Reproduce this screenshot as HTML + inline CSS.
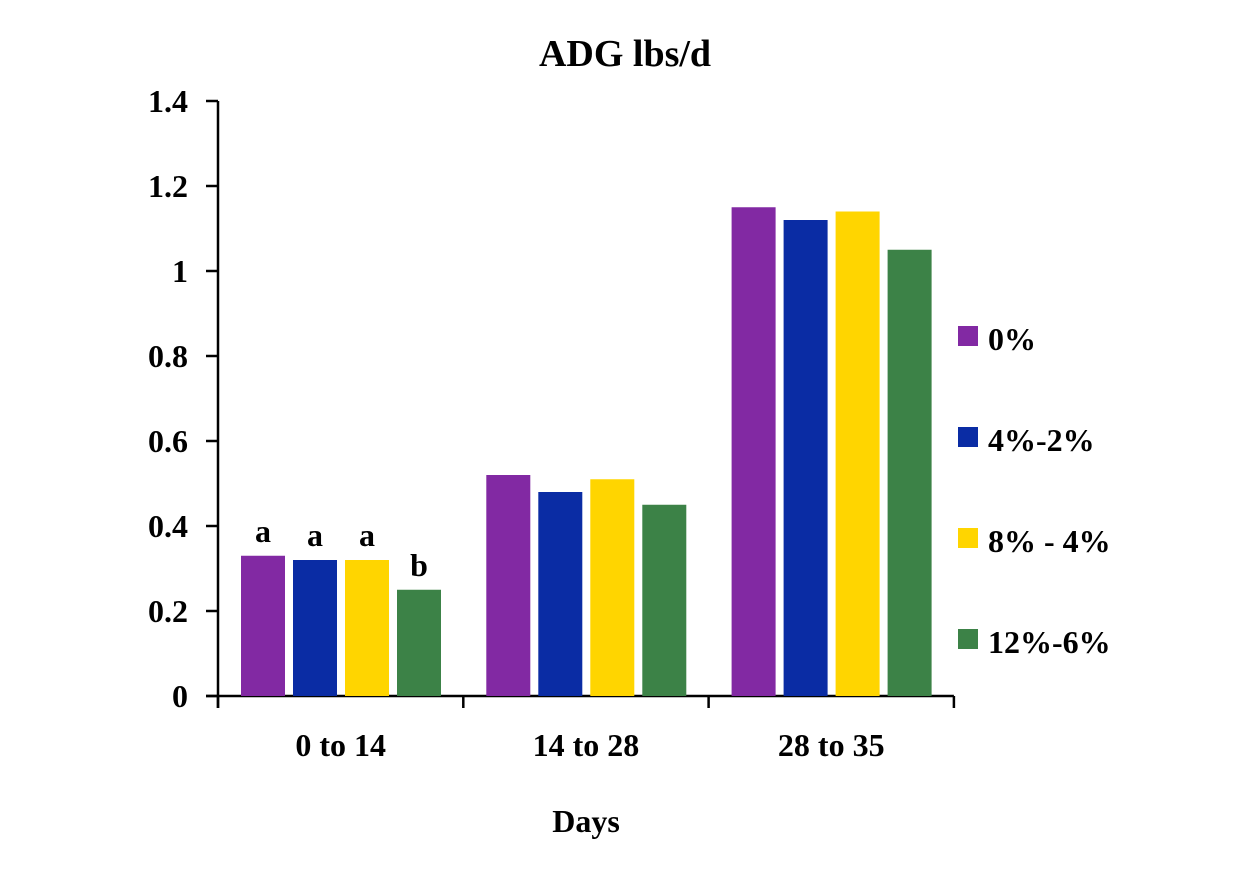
<!DOCTYPE html>
<html><head><meta charset="utf-8"><style>
body{margin:0;background:#fff;}
svg text{font-family:"Liberation Serif",serif;font-weight:bold;fill:#000;}
</style></head><body>
<svg width="1250" height="875">
<text x="625" y="66" font-size="38" text-anchor="middle">ADG lbs/d</text>
<g id="plot"></g>
<text x="586" y="832" font-size="32" text-anchor="middle">Days</text>
</svg>
<script>
const categories=["0 to 14","14 to 28","28 to 35"];
const seriesNames=["0%","4%-2%","8% - 4%","12%-6%"];
const s0=[0.33,0.52,1.15];
const s1=[0.32,0.48,1.12];
const s2=[0.32,0.51,1.14];
const s3=[0.25,0.45,1.05];
const letters=[["a","a","a","b"],["","","",""],["","","",""]];
const yTicks=[0,0.2,0.4,0.6,0.8,1,1.2,1.4];
const yTickLabels=["0","0.2","0.4","0.6","0.8","1","1.2","1.4"];
const colors=["#8229a3","#0a2ca4","#ffd500","#3c8247"];
const series=[s0,s1,s2,s3];
const NS="http://www.w3.org/2000/svg";
const g=document.getElementById('plot');
const x0=218,groupW=245.3,y0=696,yScale=425;
const y=v=>y0-v*yScale;
function mk(t,a,txt){const e=document.createElementNS(NS,t);for(const k in a)e.setAttribute(k,a[k]);if(txt!==undefined)e.textContent=txt;g.appendChild(e);return e;}
// axes
let e=mk('line',{x1:x0,y1:y(1.4),x2:x0,y2:y0+12,stroke:'#000','stroke-width':2.5});


e=mk('line',{x1:x0-12,y1:y0,x2:x0+groupW*3,y2:y0,stroke:'#000','stroke-width':2.5});


yTicks.forEach((v,i)=>{
 let t=mk('line',{x1:x0-12,y1:y(v),x2:x0,y2:y(v),stroke:'#000','stroke-width':2.5});
 
 
 let l=mk('text',{x:x0-30,y:y(v)+11,'font-size':32,'text-anchor':'end'},yTickLabels[i]);
 
 
});
for(let c=0;c<=categories.length;c++){
 let t=mk('line',{x1:x0+c*groupW,y1:y0,x2:x0+c*groupW,y2:y0+12,stroke:'#000','stroke-width':2.5});
 
 
}
categories.forEach((cat,c)=>{
 let l=mk('text',{x:x0+c*groupW+groupW/2,y:y0+60,'font-size':32,'text-anchor':'middle'},cat);
 
 
 series.forEach((s,i)=>{
  const bx=x0+c*groupW+23+i*52;
  let r=mk('rect',{x:bx,y:y(s[c]),width:44,height:y0-y(s[c]),fill:colors[i]});
  
  
  if(letters[c][i]){
   let lt=mk('text',{x:bx+22,y:y(s[c])-14,'font-size':32,'text-anchor':'middle'},letters[c][i]);
   
   
  }
 });
});
seriesNames.forEach((n,i)=>{
 const ly=338+i*101;
 let r=mk('rect',{x:958,y:ly-12,width:20,height:20,fill:colors[i]});
 
 
 let t=mk('text',{x:988,y:ly+12,'font-size':32},n);
 
 
});
</script>
</body></html>
